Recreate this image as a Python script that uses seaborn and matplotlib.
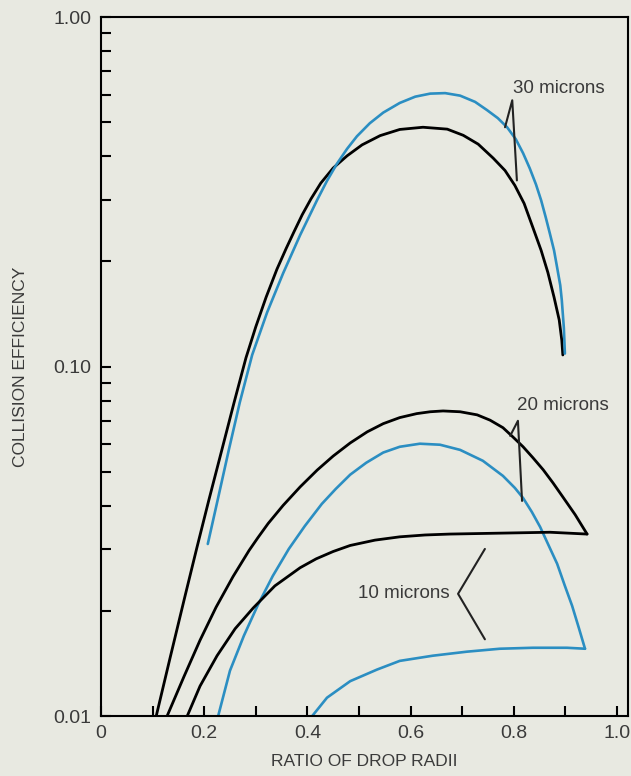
import numpy as np
import pandas as pd
import seaborn as sns
import matplotlib.pyplot as plt
from matplotlib.ticker import FixedLocator, MultipleLocator, NullFormatter

# curves: ratio of drop radii vs collision efficiency
r30_black = [0.107, 0.134, 0.163, 0.186, 0.209, 0.234, 0.258, 0.281, 0.300, 0.320, 0.341, 0.359, 0.374, 0.390,
             0.407, 0.426, 0.450, 0.477, 0.506, 0.541, 0.579, 0.624, 0.671, 0.702, 0.731, 0.760, 0.783, 0.802,
             0.820, 0.837, 0.853, 0.866, 0.878, 0.888, 0.893, 0.895]
e30_black = [0.0100, 0.0147, 0.0221, 0.0304, 0.0415, 0.0576, 0.0790, 0.106, 0.130, 0.158, 0.190, 0.218, 0.243,
             0.272, 0.302, 0.335, 0.370, 0.401, 0.431, 0.458, 0.477, 0.484, 0.478, 0.459, 0.433, 0.395, 0.364,
             0.330, 0.293, 0.250, 0.215, 0.186, 0.158, 0.136, 0.119, 0.108]

r30_blue = [0.207, 0.227, 0.248, 0.269, 0.293, 0.322, 0.353, 0.386, 0.419, 0.438, 0.457, 0.477, 0.496, 0.521,
            0.547, 0.579, 0.609, 0.638, 0.667, 0.696, 0.725, 0.748, 0.769, 0.787, 0.804, 0.818, 0.831, 0.843,
            0.853, 0.862, 0.870, 0.878, 0.884, 0.890, 0.893, 0.897, 0.899]
e30_blue = [0.0311, 0.0421, 0.0580, 0.0790, 0.108, 0.143, 0.185, 0.238, 0.300, 0.340, 0.380, 0.420, 0.456, 0.497,
            0.533, 0.568, 0.592, 0.604, 0.606, 0.596, 0.572, 0.542, 0.514, 0.484, 0.447, 0.408, 0.369, 0.332,
            0.299, 0.267, 0.240, 0.215, 0.192, 0.171, 0.155, 0.129, 0.109]

r20_black = [0.128, 0.161, 0.192, 0.223, 0.256, 0.287, 0.304, 0.324, 0.353, 0.386, 0.419, 0.450, 0.483, 0.516,
             0.547, 0.579, 0.612, 0.638, 0.663, 0.696, 0.729, 0.754, 0.779, 0.798, 0.818, 0.837, 0.857, 0.876,
             0.895, 0.919, 0.942]
e20_black = [0.0100, 0.0130, 0.0165, 0.0205, 0.0251, 0.0298, 0.0324, 0.0356, 0.0401, 0.0453, 0.0506, 0.0555,
             0.0605, 0.0651, 0.0687, 0.0715, 0.0734, 0.0743, 0.0747, 0.0743, 0.0728, 0.0703, 0.0669, 0.0630,
             0.0590, 0.0549, 0.0507, 0.0465, 0.0424, 0.0377, 0.0332]

r20_blue = [0.227, 0.250, 0.277, 0.304, 0.333, 0.364, 0.395, 0.428, 0.455, 0.483, 0.514, 0.547, 0.579, 0.618,
            0.657, 0.696, 0.740, 0.779, 0.802, 0.818, 0.835, 0.851, 0.868, 0.884, 0.899, 0.913, 0.926, 0.938]
e20_blue = [0.0100, 0.0135, 0.0170, 0.0208, 0.0252, 0.0301, 0.0350, 0.0405, 0.0447, 0.0491, 0.0531, 0.0568,
            0.0590, 0.0602, 0.0598, 0.0578, 0.0538, 0.0487, 0.0450, 0.0421, 0.0384, 0.0348, 0.0307, 0.0273,
            0.0236, 0.0207, 0.0179, 0.0156]

r10_black = [0.167, 0.192, 0.225, 0.260, 0.295, 0.337, 0.386, 0.417, 0.450, 0.483, 0.531, 0.579, 0.628, 0.676,
             0.773, 0.870, 0.942]
e10_black = [0.0100, 0.0122, 0.0149, 0.0178, 0.0204, 0.0236, 0.0266, 0.0282, 0.0296, 0.0308, 0.0319, 0.0326,
             0.0330, 0.0332, 0.0334, 0.0336, 0.0332]

r10_blue = [0.409, 0.438, 0.483, 0.535, 0.579, 0.643, 0.709, 0.773, 0.837, 0.903, 0.938]
e10_blue = [0.0100, 0.0113, 0.0126, 0.0136, 0.0144, 0.0149, 0.0153, 0.0156, 0.0157, 0.0157, 0.0156]

x_ticks = [0, 0.2, 0.4, 0.6, 0.8, 1.0]
x_tick_labels = ["0", "0.2", "0.4", "0.6", "0.8", "1.0"]
y_ticks = [0.01, 0.1, 1.0]
y_tick_labels = ["0.01", "0.10", "1.00"]

BLUE = "#2b8ec2"
INK = "#3a3a3a"
BG = "#e8e9e1"

curves = [
    (r30_black, e30_black, "black"),
    (r30_blue, e30_blue, BLUE),
    (r20_black, e20_black, "black"),
    (r20_blue, e20_blue, BLUE),
    (r10_black, e10_black, "black"),
    (r10_blue, e10_blue, BLUE),
]

# labels and their leader lines (text pos, leader polyline)
labels = [
    ("30 microns", (0.888, 0.626), [(0.783, 0.484), (0.797, 0.578), (0.806, 0.341)]),
    ("20 microns", (0.895, 0.0773), [(0.793, 0.0634), (0.808, 0.070), (0.816, 0.0413)]),
    ("10 microns", (0.587, 0.0224), [(0.744, 0.0301), (0.692, 0.0224), (0.744, 0.0166)]),
]

sns.set_style("white")
plt.rcParams['font.family'] = ['Liberation Sans', 'DejaVu Sans']

fig = plt.figure(figsize=(6.31, 7.76), dpi=100, facecolor=BG)
ax = fig.add_axes([0.160, 0.077, 0.835, 0.901])
ax.set_facecolor(BG)

for xs, ys, col in curves:
    df = pd.DataFrame({"ratio": xs, "eff": ys})
    sns.lineplot(data=df, x="ratio", y="eff", color=col, lw=2.0 if col == "black" else 1.9,
                 sort=False, estimator=None, ax=ax)

for text, (tx, ty), pts in labels:
    px, py = zip(*pts)
    ax.plot(px, py, color="#222222", lw=1.5)
    ax.text(tx, ty, text, ha="center", va="center", fontsize=13.5, color=INK)

ax.set_yscale("log")
ax.set_xlim(0, 1.021)
ax.set_ylim(0.01, 1.0)

ax.xaxis.set_major_locator(FixedLocator(x_ticks))
ax.set_xticklabels(x_tick_labels)
ax.xaxis.set_minor_locator(MultipleLocator(0.1))
ax.yaxis.set_major_locator(FixedLocator(y_ticks))
ax.set_yticklabels(y_tick_labels)
ax.yaxis.set_minor_locator(FixedLocator([m * d for d in (0.01, 0.1) for m in range(2, 10)]))
ax.yaxis.set_minor_formatter(NullFormatter())

ax.tick_params(which="both", direction="in", length=7, width=1.5, color="black",
               bottom=True, left=True, top=False, right=False,
               labelsize=14, labelcolor=INK)
ax.tick_params(axis="x", which="major", pad=6)
ax.tick_params(axis="y", which="major", pad=7)

for s in ax.spines.values():
    s.set_visible(True)
    s.set_color("black")
    s.set_linewidth(1.5)

ax.set_xlabel("RATIO OF DROP RADII", fontsize=12.5, color=INK, labelpad=9)
ax.set_ylabel("COLLISION EFFICIENCY", fontsize=12.5, color=INK, labelpad=18)

fig.savefig("out.png", dpi=100, facecolor=BG)
